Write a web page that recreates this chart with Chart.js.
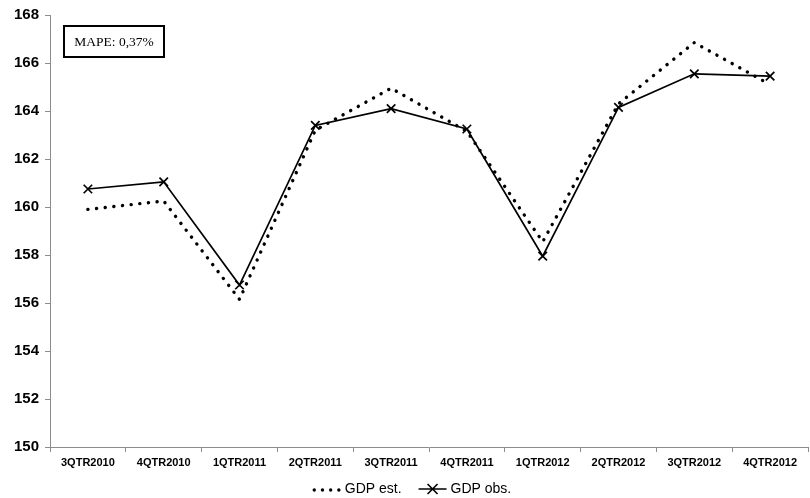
<!DOCTYPE html>
<html>
<head>
<meta charset="utf-8">
<script src="https://cdn.jsdelivr.net/npm/chart.js@4/dist/chart.umd.min.js"></script>
<style>
  html, body { margin: 0; padding: 0; background: #fff; }
  #wrap { width: 810px; height: 498px; position: relative; }
</style>
</head>
<body>
<div id="wrap"><canvas id="gdpChart"></canvas></div>
<script>
// Quarterly GDP: model estimate vs. observed
const quarters = ['3QTR2010', '4QTR2010', '1QTR2011', '2QTR2011', '3QTR2011',
                  '4QTR2011', '1QTR2012', '2QTR2012', '3QTR2012', '4QTR2012'];
const gdpEstimated = [159.9, 160.25, 156.15, 163.2, 164.95, 163.15, 158.55, 164.3, 166.85, 165.1];
const gdpObserved  = [160.75, 161.05, 156.75, 163.4, 164.1, 163.25, 157.95, 164.15, 165.55, 165.45];
const yMin = 150, yMax = 168, yStep = 2;
const seriesNames = ['GDP est.', 'GDP obs.'];
const mapeText = 'MAPE: 0,37%';

const axisGrey = '#8c8c8c';

// Boxed note with the error statistic, top-left of the plot area
const mapeBox = {
  id: 'mapeBox',
  afterDraw(chart) {
    const { ctx, chartArea } = chart;
    const x = chartArea.left + 14, y = chartArea.top + 11, w = 100, h = 31;
    ctx.save();
    ctx.strokeStyle = '#000';
    ctx.lineWidth = 2;
    ctx.strokeRect(x, y, w, h);
    ctx.fillStyle = '#000';
    ctx.font = '13.5px "Liberation Serif", "DejaVu Serif", serif';
    ctx.textAlign = 'center';
    ctx.textBaseline = 'middle';
    ctx.fillText(mapeText, x + w / 2, y + h / 2 + 1);
    ctx.restore();
  }
};

// Bottom legend: dotted sample for the estimate, line with cross for observations
const bottomLegend = {
  id: 'bottomLegend',
  afterDraw(chart) {
    const { ctx } = chart;
    const ds = chart.data.datasets;
    const y = 489;
    ctx.save();
    ctx.font = '14px "Liberation Sans", Arial, sans-serif';
    ctx.textBaseline = 'middle';
    ctx.fillStyle = '#000';
    const sample = 28, gap = 4, between = 17;
    const w0 = sample + gap + ctx.measureText(ds[0].label).width;
    const w1 = sample + gap + ctx.measureText(ds[1].label).width;
    let x = 412 - (w0 + between + w1) / 2;
    // dotted sample
    for (let i = 0; i < 4; i++) {
      ctx.beginPath();
      ctx.arc(x + 1.5 + i * 8.2, y + 1, 1.7, 0, Math.PI * 2);
      ctx.fill();
    }
    ctx.fillText(ds[0].label, x + sample + gap, y);
    x += w0 + between;
    // line + cross sample
    ctx.strokeStyle = '#000';
    ctx.lineWidth = 1.6;
    ctx.beginPath();
    ctx.moveTo(x, y); ctx.lineTo(x + sample, y);
    const cx = x + sample / 2, r = 5;
    ctx.moveTo(cx - r, y - r); ctx.lineTo(cx + r, y + r);
    ctx.moveTo(cx - r, y + r); ctx.lineTo(cx + r, y - r);
    ctx.stroke();
    ctx.fillText(ds[1].label, x + sample + gap, y);
    ctx.restore();
  }
};

new Chart(document.getElementById('gdpChart'), {
  type: 'line',
  data: {
    labels: quarters,
    datasets: [
      {
        label: seriesNames[0],
        data: gdpEstimated,
        borderColor: '#000',
        borderWidth: 3.4,
        borderDash: [0.1, 8.6],
        borderCapStyle: 'round',
        pointRadius: 0,
        tension: 0,
        fill: false
      },
      {
        label: seriesNames[1],
        data: gdpObserved,
        borderColor: '#000',
        borderWidth: 1.7,
        pointStyle: 'crossRot',
        pointRadius: 6,
        pointBorderWidth: 1.7,
        pointBorderColor: '#000',
        pointBackgroundColor: '#000',
        tension: 0,
        fill: false
      }
    ]
  },
  options: {
    responsive: true,
    maintainAspectRatio: false,
    animation: false,
    layout: { autoPadding: false, padding: { top: 15, right: 2, bottom: 25, left: 0 } },
    plugins: { legend: { display: false }, tooltip: { enabled: false } },
    scales: {
      x: {
        offset: true,
        border: { color: axisGrey, width: 1 },
        grid: { offset: true, drawOnChartArea: false, tickLength: 5, color: axisGrey },
        ticks: {
          autoSkip: false, maxRotation: 0, color: '#000', padding: 4,
          font: { family: '"Liberation Sans", Arial, sans-serif', size: 11, weight: 'bold' }
        },
        afterFit(scale) {
          scale.height = 26;
          scale.paddingLeft = 0;
          scale.paddingRight = 0;
        }
      },
      y: {
        min: yMin, max: yMax,
        border: { color: axisGrey, width: 1 },
        grid: { drawOnChartArea: false, tickLength: 5, color: axisGrey },
        ticks: {
          stepSize: yStep, color: '#000', padding: 6,
          font: { family: '"Liberation Sans", Arial, sans-serif', size: 15, weight: 'bold' }
        },
        afterFit(scale) { scale.width = 50; }
      }
    }
  },
  plugins: [mapeBox, bottomLegend]
});
</script>
</body>
</html>
